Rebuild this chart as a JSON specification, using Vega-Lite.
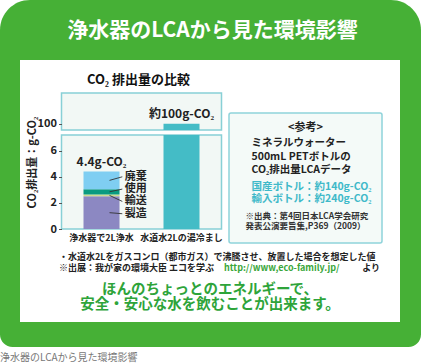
{
  "$schema": "https://vega.github.io/schema/vega-lite/v6.json",
  "padding": 0,
  "background": "white",
  "spacing": 0,
  "config": {
    "font": "Noto Sans CJK JP",
    "view": {"stroke": null},
    "concat": {"spacing": 0}
  },
  "datasets": {
    "emissions": [
      {"item": "浄水器で2L浄水", "stage": "製造", "value": 2.5},
      {"item": "浄水器で2L浄水", "stage": "輸送", "value": 0.15},
      {"item": "浄水器で2L浄水", "stage": "使用", "value": 0.4},
      {"item": "浄水器で2L浄水", "stage": "廃棄", "value": 1.35},
      {"item": "水道水2Lの湯冷まし", "stage": "湯冷まし", "value": 100}
    ],
    "totals": [
      {"item": "浄水器で2L浄水", "total": 4.4, "label": "4.4g-CO₂"},
      {"item": "水道水2Lの湯冷まし", "total": 100, "label": "約100g-CO₂"}
    ],
    "refnotes": [
      {"part": "head", "text": "<参考>"},
      {"part": "body", "text": "ミネラルウォーター\n500mL PETボトルの\nCO₂排出量LCAデータ"},
      {"part": "values", "text": "国産ボトル：約140g-CO₂\n輸入ボトル：約240g-CO₂"},
      {"part": "source", "text": "※出典：第4回日本LCA学会研究\n　発表公演要旨集,P369（2009）"}
    ],
    "notes": [
      {"part": "note", "text": "・水道水2Lをガスコンロ（都市ガス）で沸騰させ、放置した場合を想定した値"},
      {"part": "source", "text": "※出展：我が家の環境大臣 エコを学ぶ"},
      {"part": "url", "text": "http://www,eco-family.jp/"},
      {"part": "tail", "text": "より"}
    ]
  },
  "vconcat": [
    {
      "width": 421,
      "height": 60,
      "data": {"values": [{"text": "浄水器のLCAから見た環境影響"}]},
      "layer": [
        {"mark": {"type": "rect", "color": "#46b036", "cornerRadiusTopLeft": 30, "cornerRadiusTopRight": 30}, "encoding": {}},
        {"mark": {"type": "text", "color": "white", "fontSize": 21, "fontWeight": "bold", "letterSpacing": 1, "dx": 2, "dy": 1}, "encoding": {"text": {"field": "text"}}}
      ]
    },
    {
      "spacing": 0,
      "hconcat": [
        {"width": 20, "height": 262, "data": {"values": [{}]}, "mark": {"type": "rect", "color": "#46b036"}, "encoding": {}},
        {
          "spacing": 0,
          "vconcat": [
            {"width": 380, "height": 13, "data": {"values": []}, "mark": "rect", "encoding": {}},
            {
              "spacing": 4.5,
              "hconcat": [
                {"width": 1, "height": 1, "data": {"values": []}, "mark": "rect", "encoding": {}},
                {
                  "spacing": 5,
                  "bounds": "flush",
                  "resolve": {"scale": {"x": "independent", "y": "independent"}},
                  "vconcat": [
                    {
                      "width": 160,
                      "height": 37,
                      "view": {"fill": "#f2f8f5", "stroke": "#88d0d6", "strokeWidth": 1.5},
                      "title": {"text": "CO₂ 排出量の比較", "fontSize": 13, "fontWeight": "bold", "color": "#111", "anchor": "middle", "frame": "group", "offset": 6, "dx": -3},
                      "data": {"name": "emissions"},
                      "transform": [
                        {"calculate": "indexof(['製造','輸送','使用','廃棄'], datum.stage)", "as": "rank"}
                      ],
                      "layer": [
                        {
                          "mark": {"type": "bar", "size": 36, "clip": true},
                          "encoding": {
                            "x": {"field": "item", "type": "nominal", "sort": ["浄水器で2L浄水", "水道水2Lの湯冷まし"], "scale": {"paddingInner": 0, "paddingOuter": 0}, "axis": null},
                            "y": {
                              "field": "value", "type": "quantitative", "stack": "zero",
                              "scale": {"domain": [99, 105], "nice": false, "zero": false},
                              "axis": {"values": [100], "tickCount": 10, "format": "d", "title": null, "labelFontSize": 11, "labelFontWeight": "bold", "labelColor": "#222", "tickSize": 3, "tickColor": "#555", "labelPadding": 2, "domain": false, "grid": false}
                            },
                            "color": {
                              "field": "stage", "type": "nominal",
                              "scale": {"domain": ["製造", "輸送", "使用", "廃棄", "湯冷まし"], "range": ["#8c88c2", "#cddc8e", "#0a9b80", "#7fcef2", "#44bcc6"]},
                              "legend": null
                            },
                            "order": {"field": "rank", "type": "quantitative"}
                          }
                        },
                        {
                          "data": {"name": "totals"},
                          "transform": [{"filter": "datum.total > 7"}],
                          "mark": {"type": "text", "fontSize": 12, "fontWeight": "bold", "color": "#222", "baseline": "alphabetic", "dy": -6},
                          "encoding": {
                            "x": {"field": "item", "type": "nominal", "sort": ["浄水器で2L浄水", "水道水2Lの湯冷まし"]},
                            "y": {"field": "total", "type": "quantitative"},
                            "text": {"field": "label"}
                          }
                        }
                      ]
                    },
                    {
                      "width": 160,
                      "height": 94,
                      "view": {"fill": "#f2f8f5", "stroke": "#88d0d6", "strokeWidth": 1.5},
                      "data": {"name": "emissions"},
                      "transform": [
                        {"calculate": "indexof(['製造','輸送','使用','廃棄'], datum.stage)", "as": "rank"}
                      ],
                      "layer": [
                        {
                          "mark": {"type": "bar", "size": 36, "clip": true},
                          "encoding": {
                            "x": {
                              "field": "item", "type": "nominal",
                              "sort": ["浄水器で2L浄水", "水道水2Lの湯冷まし"],
                              "scale": {"paddingInner": 0, "paddingOuter": 0},
                              "axis": {"title": null, "labelAngle": 0, "ticks": false, "domain": false, "labelFontSize": 9, "labelFontWeight": "bold", "labelColor": "#222", "labelPadding": 4}
                            },
                            "y": {
                              "field": "value", "type": "quantitative", "stack": "zero",
                              "scale": {"domain": [0, 7.2], "nice": false},
                              "axis": {"values": [0, 2, 4, 6], "tickCount": 10, "format": "d", "title": "CO₂排出量：g-CO₂", "titleFontSize": 11, "titleFontWeight": "bold", "titleColor": "#222", "titlePadding": 12.5, "titleY": 27, "labelFontSize": 11, "labelFontWeight": "bold", "labelColor": "#222", "tickSize": 3, "tickColor": "#555", "labelPadding": 2, "domain": false, "grid": false}
                            },
                            "color": {
                              "field": "stage", "type": "nominal",
                              "scale": {"domain": ["製造", "輸送", "使用", "廃棄", "湯冷まし"], "range": ["#8c88c2", "#cddc8e", "#0a9b80", "#7fcef2", "#44bcc6"]},
                              "legend": null
                            },
                            "order": {"field": "rank", "type": "quantitative"}
                          }
                        },
                        {
                          "data": {"name": "totals"},
                          "transform": [{"filter": "datum.total <= 7"}],
                          "mark": {"type": "text", "fontSize": 12, "fontWeight": "bold", "color": "#222", "baseline": "alphabetic", "dy": -6},
                          "encoding": {
                            "x": {"field": "item", "type": "nominal", "sort": ["浄水器で2L浄水", "水道水2Lの湯冷まし"]},
                            "y": {"field": "total", "type": "quantitative"},
                            "text": {"field": "label"}
                          }
                        },
                        {
                          "transform": [
                            {"filter": "datum.rank >= 0"},
                            {"stack": "value", "groupby": ["item"], "sort": [{"field": "rank", "order": "ascending"}], "as": ["v0", "v1"]},
                            {"calculate": "(datum.v0 + datum.v1) / 2", "as": "mid"},
                            {"calculate": "1.17 + datum.rank * 0.943", "as": "labelPos"}
                          ],
                          "mark": {"type": "rule", "color": "#333", "strokeWidth": 0.9},
                          "encoding": {
                            "x": {"field": "item", "type": "nominal", "sort": ["浄水器で2L浄水", "水道水2Lの湯冷まし"], "bandPosition": 0.6},
                            "x2": {"field": "item", "bandPosition": 0.76},
                            "y": {"field": "mid", "type": "quantitative"},
                            "y2": {"field": "labelPos"}
                          }
                        },
                        {
                          "transform": [
                            {"filter": "datum.rank >= 0"},
                            {"calculate": "1.17 + datum.rank * 0.943", "as": "labelPos"}
                          ],
                          "mark": {"type": "text", "align": "left", "baseline": "middle", "fontSize": 11, "fontWeight": "bold", "color": "#222"},
                          "encoding": {
                            "x": {"field": "item", "type": "nominal", "sort": ["浄水器で2L浄水", "水道水2Lの湯冷まし"], "bandPosition": 0.79},
                            "y": {"field": "labelPos", "type": "quantitative"},
                            "text": {"field": "stage"}
                          }
                        }
                      ]
                    }
                  ]
                },
                {
                  "spacing": 0,
                  "vconcat": [
                    {"width": 153, "height": 19, "data": {"values": []}, "mark": "rect", "encoding": {}},
                    {
                      "width": 153,
                      "height": 130,
                      "view": {"fill": "#f4faf8", "stroke": "#8fd3da", "strokeWidth": 1.5, "cornerRadius": 2},
                      "data": {"name": "refnotes"},
                      "layer": [
                        {"transform": [{"filter": "datum.part === 'head'"}], "mark": {"type": "text", "fontSize": 11, "fontWeight": "bold", "color": "#222", "dy": -50}, "encoding": {"text": {"field": "text"}}},
                        {"transform": [{"filter": "datum.part === 'body'"}], "mark": {"type": "text", "align": "left", "fontSize": 10.5, "fontWeight": "bold", "color": "#222", "lineBreak": "\n", "lineHeight": 13.5, "dx": -54, "dy": -35}, "encoding": {"text": {"field": "text"}}},
                        {"transform": [{"filter": "datum.part === 'values'"}], "mark": {"type": "text", "align": "left", "fontSize": 10.5, "fontWeight": "bold", "color": "#3fb9c9", "lineBreak": "\n", "lineHeight": 11.7, "dx": -54, "dy": 9}, "encoding": {"text": {"field": "text"}}},
                        {"transform": [{"filter": "datum.part === 'source'"}], "mark": {"type": "text", "align": "left", "fontSize": 8.5, "fontWeight": "bold", "color": "#333", "lineBreak": "\n", "lineHeight": 10, "dx": -60, "dy": 38.3}, "encoding": {"text": {"field": "text"}}}
                      ]
                    }
                  ]
                }
              ]
            },
            {
              "width": 380,
              "height": 30,
              "data": {"name": "notes"},
              "layer": [
                {"transform": [{"filter": "datum.part === 'note'"}], "mark": {"type": "text", "align": "left", "fontSize": 9, "fontWeight": "bold", "color": "#222", "letterSpacing": 0.4, "dx": -151, "dy": -2}, "encoding": {"text": {"field": "text"}}},
                {"transform": [{"filter": "datum.part === 'source'"}], "mark": {"type": "text", "align": "left", "fontSize": 9, "fontWeight": "bold", "color": "#222", "dx": -151, "dy": 9.3}, "encoding": {"text": {"field": "text"}}},
                {"transform": [{"filter": "datum.part === 'url'"}], "mark": {"type": "text", "align": "left", "fontSize": 9, "fontWeight": "bold", "color": "#3aa63a", "letterSpacing": 0.8, "dx": 14, "dy": 9.3}, "encoding": {"text": {"field": "text"}}},
                {"transform": [{"filter": "datum.part === 'tail'"}], "mark": {"type": "text", "align": "right", "fontSize": 9, "fontWeight": "bold", "color": "#222", "dx": 170, "dy": 9.3}, "encoding": {"text": {"field": "text"}}}
              ]
            },
            {
              "width": 380,
              "height": 48,
              "data": {"values": [{"text": "ほんのちょっとのエネルギーで、\n安全・安心な水を飲むことが出来ます。"}]},
              "mark": {"type": "text", "fontSize": 14.5, "fontWeight": "bold", "color": "#2ea43a", "lineBreak": "\n", "lineHeight": 15, "dy": -7.7},
              "encoding": {"text": {"field": "text"}}
            }
          ]
        },
        {"width": 21, "height": 262, "data": {"values": [{}]}, "mark": {"type": "rect", "color": "#46b036"}, "encoding": {}}
      ]
    },
    {
      "width": 421,
      "height": 25,
      "data": {"values": [{}]},
      "mark": {"type": "rect", "color": "#46b036", "cornerRadiusBottomLeft": 25, "cornerRadiusBottomRight": 25},
      "encoding": {}
    },
    {
      "width": 424,
      "height": 16,
      "data": {"values": [{"text": "浄水器のLCAから見た環境影響"}]},
      "mark": {"type": "text", "align": "left", "fontSize": 10, "color": "#777", "dx": -212, "dy": 3},
      "encoding": {"text": {"field": "text"}}
    }
  ]
}
